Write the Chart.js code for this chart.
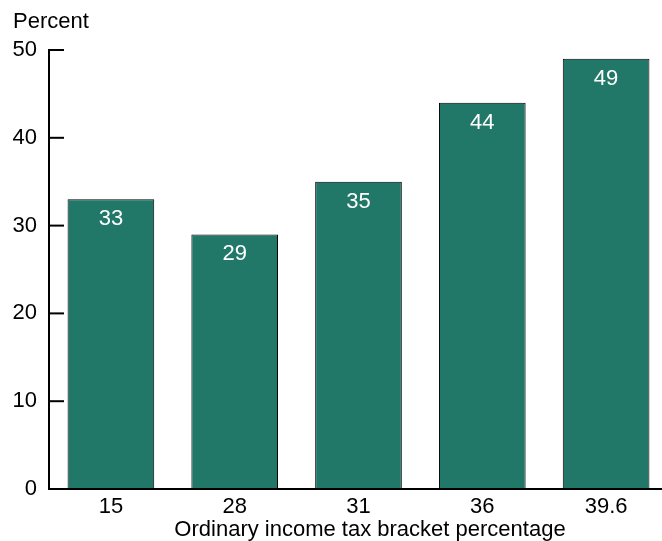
<!DOCTYPE html>
<html><head><meta charset="utf-8">
<script src="https://cdn.jsdelivr.net/npm/chart.js@4"></script>
<style>html,body{margin:0;padding:0;background:#fff;overflow:hidden;width:662px;height:541px}#w{width:668px;height:541px;position:relative}</style>
</head><body><div id="w"><canvas id="c"></canvas></div>
<script>
const categories = ["15", "28", "31", "36", "39.6"];
const values = [33, 29, 35, 44, 49];
const yTicks = [0, 10, 20, 30, 40, 50];
const yTitle = "Percent";
const xTitle = "Ordinary income tax bracket percentage";

const FONT = "'Liberation Sans', Arial, sans-serif";
const BAR = "#217868";

const axesPlugin = {
  id: 'axesPlugin',
  afterDatasetsDraw(chart) {
    const ctx = chart.ctx, a = chart.chartArea, y = chart.scales.y;
    ctx.save();
    ctx.strokeStyle = '#000'; ctx.lineWidth = 2;
    ctx.beginPath();
    ctx.moveTo(a.left, y.getPixelForValue(50) - 1);
    ctx.lineTo(a.left, y.getPixelForValue(0));
    ctx.lineTo(a.right + 10, y.getPixelForValue(0));
    ctx.stroke();
    yTicks.forEach(v => {
      const py = y.getPixelForValue(v);
      ctx.beginPath(); ctx.moveTo(a.left - 1, py); ctx.lineTo(a.left + 15, py); ctx.stroke();
    });
    ctx.fillStyle = '#fff'; ctx.font = '22px ' + FONT;
    ctx.textAlign = 'center'; ctx.textBaseline = 'middle';
    const meta = chart.getDatasetMeta(0);
    meta.data.forEach((bar, i) => {
      ctx.fillText(String(values[i]), bar.x, bar.y + 20);
    });
    ctx.fillStyle = '#000'; ctx.textAlign = 'left';
    ctx.fillText(yTitle, 13, 22);
    ctx.textAlign = 'center';
    ctx.fillText(xTitle, 370, 530);
    ctx.restore();
  }
};

new Chart(document.getElementById('c'), {
  type: 'bar',
  data: {
    labels: categories,
    datasets: [{
      data: values,
      backgroundColor: BAR,
      borderColor: '#000',
      borderWidth: 1,
      borderSkipped: 'bottom',
      categoryPercentage: 0.7,
      barPercentage: 1.0
    }]
  },
  options: {
    responsive: true,
    maintainAspectRatio: false,
    animation: false,
    events: [],
    layout: { padding: { top: 50, right: 0, left: 0, bottom: 0 } },
    plugins: { legend: { display: false }, tooltip: { enabled: false } },
    scales: {
      x: {
        grid: { display: false, drawTicks: false },
        border: { display: false },
        ticks: { color: '#000', font: { family: FONT, size: 22 }, padding: 5, maxRotation: 0 },
        afterFit(s) { s.height = 52; }
      },
      y: {
        min: 0, max: 50,
        afterBuildTicks(s) { s.ticks = yTicks.map(v => ({ value: v })); },
        grid: { display: false, drawTicks: false },
        border: { display: false },
        ticks: { color: '#000', font: { family: FONT, size: 22 }, padding: 12 },
        afterFit(s) { s.width = 49; }
      }
    }
  },
  plugins: [axesPlugin]
});
</script>
</body></html>
